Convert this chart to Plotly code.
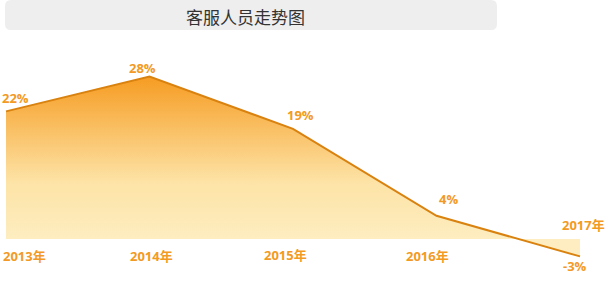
import plotly.graph_objects as go

years = ["2013年", "2014年", "2015年", "2016年", "2017年"]
values = [22, 28, 19, 4, -3]
value_labels = ["22%", "28%", "19%", "4%", "-3%"]
title_text = "客服人员走势图"

W, H = 608, 292
xs = list(range(len(years)))

# pixel layout mapping
x0_px, dx_px = 6.0, 143.5
zero_px, scale_px = 239.0, 5.8
x_range = [(-x0_px) / dx_px, (W - x0_px) / dx_px]
y_range = [-(H - zero_px) / scale_px, zero_px / scale_px]

orange = "#F39A24"
line_col = "#D9820F"
font_fam = "Open Sans, Noto Sans CJK SC, sans-serif"

fig = go.Figure()
fig.add_trace(go.Scatter(
    x=xs, y=values, mode="lines",
    line=dict(color=line_col, width=2),
    fill="tozeroy",
    fillgradient=dict(type="vertical",
                      colorscale=[[0, "#FDEDC0"], [0.35, "#FDE3A6"], [1, "#F69C22"]],
                      start=0, stop=max(values)),
    hoverinfo="skip", showlegend=False,
))

annotations = []
# value labels (pixel offsets from the point: right, down)
val_offsets = [(9, -13), (-7.5, -9), (7, -14), (11.5, -17), (-5, 10)]
for i, (v, lab) in enumerate(zip(values, value_labels)):
    ox, oy = val_offsets[i]
    annotations.append(dict(x=xs[i], y=v, text=f"<b>{lab}</b>", showarrow=False,
                            xanchor="center", yanchor="middle",
                            xshift=ox, yshift=-oy,
                            font=dict(family=font_fam, size=13, color=orange)))
# year labels
yr_offsets = [(18, 17), (1.5, 17), (-8, 16), (-9.5, 17), (3, -14)]
for i, yl in enumerate(years):
    ox, oy = yr_offsets[i]
    annotations.append(dict(x=xs[i], y=0, text=f"<b>{yl}</b>", showarrow=False,
                            xanchor="center", yanchor="middle",
                            xshift=ox, yshift=-oy,
                            font=dict(family=font_fam, size=13, color=orange)))

# title
annotations.append(dict(xref="paper", yref="paper", x=245 / W, y=1 - 16 / H,
                        xanchor="center", yanchor="middle",
                        text=title_text, showarrow=False,
                        font=dict(family="Noto Sans CJK SC, sans-serif", size=17, color="#333333")))


def rounded_rect(x0, y0, x1, y1, r):
    # pixel coords -> paper path
    def p(x, y):
        return f"{x / W:.5f},{1 - y / H:.5f}"
    return (f"M{p(x0 + r, y0)} L{p(x1 - r, y0)} Q{p(x1, y0)} {p(x1, y0 + r)} "
            f"L{p(x1, y1 - r)} Q{p(x1, y1)} {p(x1 - r, y1)} "
            f"L{p(x0 + r, y1)} Q{p(x0, y1)} {p(x0, y1 - r)} "
            f"L{p(x0, y0 + r)} Q{p(x0, y0)} {p(x0 + r, y0)} Z")


fig.update_layout(
    width=W, height=H,
    margin=dict(l=0, r=0, t=0, b=0),
    paper_bgcolor="white", plot_bgcolor="white",
    xaxis=dict(range=x_range, visible=False, fixedrange=True),
    yaxis=dict(range=y_range, visible=False, fixedrange=True),
    annotations=annotations,
    shapes=[dict(type="path", xref="paper", yref="paper",
                 path=rounded_rect(5, 0, 497, 30, 6),
                 fillcolor="#EEEEEE", line=dict(width=0), layer="below")],
)

fig.write_html("out.html", config={"displayModeBar": False})
